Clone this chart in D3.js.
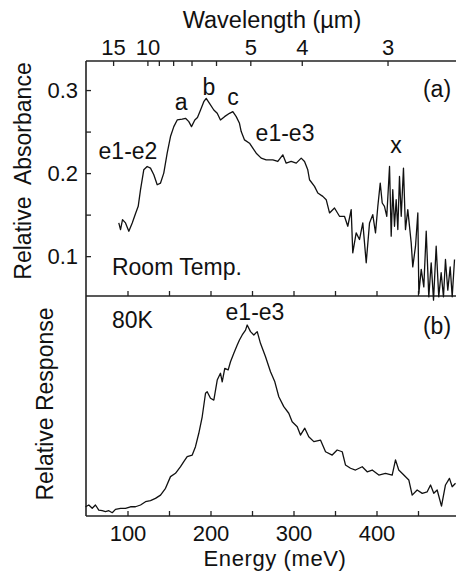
<!DOCTYPE html>
<html>
<head>
<meta charset="utf-8">
<script src="https://cdn.jsdelivr.net/npm/d3@7"></script>
<style>
  html, body { margin: 0; padding: 0; background: #fff; }
  svg { display: block; }
  text { font-family: "Liberation Sans", Arial, Helvetica, sans-serif; fill: #111; }
</style>
</head>
<body>
<svg id="chart" width="456" height="571"></svg>
<script>
// ---------- data ----------
// Panel (a): room-temperature absorbance, energy in meV
const absEnergy = [89.5, 91.6, 94.0, 97.6, 101.6, 105.7, 109.6, 112.9, 115.7, 119.6, 123.7, 127.7, 131.7, 135.8, 139.8, 143.7, 147.8, 151.8, 155.8, 159.9, 165.9, 169.9, 173.9, 177.1, 181.1, 184.3, 188.0, 191.9, 194.8, 198.8, 204.0, 208.1, 212.0, 216.9, 222.9, 226.9, 231.0, 234.9, 237.0, 241.0, 247.0, 251.0, 255.1, 261.1, 267.1, 275.1, 281.1, 287.1, 291.2, 297.2, 303.3, 309.3, 313.3, 317.2, 319.3, 325.3, 329.3, 335.3, 339.4, 343.4, 349.4, 355.4, 361.4, 365.4, 369.5, 371.4, 375.5, 379.5, 383.5, 387.6, 391.6, 395.5, 398.8, 401.6, 404.5, 406.9, 409.6, 412.4, 415.7, 417.7, 419.6, 421.7, 423.7, 425.7, 427.7, 429.8, 432.5, 434.9, 437.7, 441.8, 443.7, 447.0, 449.8, 451.0, 453.9, 457.0, 459.9, 463.0, 465.9, 468.7, 471.9, 475.0, 477.9, 480.7, 483.1, 485.9, 488.8, 491.2, 494.0];
const absValue = [0.140, 0.132, 0.144, 0.140, 0.130, 0.140, 0.151, 0.160, 0.180, 0.204, 0.208, 0.206, 0.198, 0.186, 0.188, 0.200, 0.224, 0.244, 0.256, 0.264, 0.265, 0.266, 0.262, 0.256, 0.264, 0.267, 0.276, 0.286, 0.290, 0.284, 0.276, 0.272, 0.264, 0.268, 0.272, 0.274, 0.268, 0.260, 0.250, 0.240, 0.236, 0.230, 0.224, 0.218, 0.216, 0.216, 0.214, 0.222, 0.212, 0.214, 0.212, 0.218, 0.214, 0.204, 0.192, 0.184, 0.176, 0.172, 0.168, 0.152, 0.158, 0.148, 0.148, 0.136, 0.156, 0.104, 0.128, 0.120, 0.140, 0.092, 0.140, 0.150, 0.128, 0.160, 0.188, 0.164, 0.160, 0.148, 0.208, 0.124, 0.180, 0.136, 0.168, 0.132, 0.196, 0.148, 0.206, 0.132, 0.156, 0.116, 0.087, 0.112, 0.152, 0.055, 0.084, 0.063, 0.130, 0.051, 0.092, 0.047, 0.112, 0.051, 0.080, 0.051, 0.096, 0.059, 0.087, 0.051, 0.096];

// Panel (b): 80 K photoresponse (arbitrary units), energy in meV
const respEnergy = [49.4, 53.4, 57.5, 61.4, 65.4, 69.5, 73.5, 77.5, 81.6, 85.5, 91.6, 97.6, 103.6, 109.6, 115.7, 121.7, 127.7, 133.7, 139.8, 145.8, 151.8, 157.8, 163.9, 167.8, 171.9, 178.0, 181.9, 185.9, 190.0, 194.0, 196.0, 200.0, 204.0, 208.1, 212.0, 214.1, 217.2, 221.3, 224.1, 228.1, 232.2, 234.9, 238.2, 242.2, 244.2, 248.2, 252.2, 256.3, 260.2, 266.3, 272.3, 277.5, 282.3, 288.3, 294.3, 298.4, 304.5, 308.4, 313.6, 318.4, 324.5, 332.5, 338.6, 346.6, 352.6, 358.7, 362.6, 368.7, 374.7, 382.8, 388.8, 394.8, 402.8, 410.8, 418.9, 422.9, 426.8, 432.9, 438.9, 443.0, 449.0, 455.1, 461.1, 465.1, 469.0, 473.1, 478.3, 483.1, 487.9, 491.2, 495.2];
const respValue = [0.042, 0.050, 0.035, 0.050, 0.027, 0.024, 0.020, 0.024, 0.015, 0.030, 0.035, 0.035, 0.042, 0.042, 0.050, 0.065, 0.070, 0.080, 0.095, 0.126, 0.179, 0.194, 0.224, 0.247, 0.270, 0.277, 0.315, 0.376, 0.451, 0.558, 0.565, 0.535, 0.527, 0.618, 0.649, 0.610, 0.671, 0.664, 0.701, 0.740, 0.777, 0.800, 0.823, 0.845, 0.868, 0.838, 0.823, 0.838, 0.785, 0.724, 0.656, 0.610, 0.542, 0.497, 0.467, 0.428, 0.406, 0.368, 0.399, 0.360, 0.338, 0.345, 0.292, 0.277, 0.300, 0.292, 0.232, 0.217, 0.209, 0.224, 0.201, 0.209, 0.186, 0.194, 0.186, 0.255, 0.209, 0.186, 0.164, 0.095, 0.118, 0.103, 0.110, 0.141, 0.103, 0.118, 0.045, 0.141, 0.171, 0.133, 0.149];

// Axis ticks
const energyTicks = [100, 150, 200, 250, 300, 350, 400, 450];
const energyLabels = [100, 200, 300, 400];
const wavelengthTicks = [15, 10, 9, 8, 7, 6, 5, 4, 3];
const wavelengthLabels = [15, 10, 5, 4, 3];
const absTicks = [0.1, 0.15, 0.2, 0.25, 0.3];
const absLabels = [0.1, 0.2, 0.3];

// Annotations (data coordinates)
const annotationsA = [
  { text: "a", e: 164.5, v: 0.276, anchor: "middle" },
  { text: "b", e: 198.2, v: 0.294, anchor: "middle" },
  { text: "c", e: 227.0, v: 0.282, anchor: "middle" },
  { text: "e1-e3", e: 289.8, v: 0.2387, anchor: "middle" },
  { text: "e1-e2", e: 100.6, v: 0.217, anchor: "middle" },
  { text: "x", e: 423.5, v: 0.224, anchor: "middle" },
  { text: "Room Temp.", e: 81.3, v: 0.0775, anchor: "start" },
  { text: "(a)", e: 472.9, v: 0.2916, anchor: "middle" }
];
const annotationsB = [
  { text: "80K", e: 81.3, v: 0.855, anchor: "start" },
  { text: "e1-e3", e: 253.6, v: 0.891, anchor: "middle" },
  { text: "(b)", e: 472.9, v: 0.827, anchor: "middle" }
];

// ---------- layout ----------
const plotLeft = 86, plotTop = 61, plotMid = 296, plotBottom = 516, plotRight = 460;
const tickFont = 22;
const labelFont = 23;
const HC = 1239.84; // meV·µm

const svg = d3.select("#chart");

const x = d3.scaleLinear().domain([50, 500]).range([plotLeft, plotLeft + 450 * 0.83]);
const ya = d3.scaleLinear().domain([0.052, 0.335]).range([plotMid, plotTop]);
const yb = d3.scaleLinear().domain([0, 1]).range([plotBottom, plotMid]);

const frameColor = "#222";

// ---------- axes ----------
const bottomAxis = d3.axisBottom(x)
  .tickValues(energyTicks)
  .tickSizeInner(-5).tickSizeOuter(0).tickPadding(9.5)
  .tickFormat(d => energyLabels.includes(d) ? d : "");
svg.append("g").attr("transform", `translate(0,${plotBottom})`).call(bottomAxis);

const midAxis = d3.axisBottom(x)
  .tickValues(energyTicks)
  .tickSizeInner(-5).tickSizeOuter(0)
  .tickFormat("");
svg.append("g").attr("transform", `translate(0,${plotMid})`).call(midAxis);

const topAxis = d3.axisTop(x)
  .tickValues(wavelengthTicks.map(l => HC / l))
  .tickSizeInner(-5).tickSizeOuter(0).tickPadding(6)
  .tickFormat(e => {
    const l = Math.round(HC / e);
    return wavelengthLabels.includes(l) ? l : "";
  });
svg.append("g").attr("transform", `translate(0,${plotTop})`).call(topAxis);

const leftAxis = d3.axisLeft(ya)
  .tickValues(absTicks)
  .tickSizeInner(-5).tickSizeOuter(0).tickPadding(8)
  .tickFormat(d => absLabels.some(a => Math.abs(a - d) < 1e-9) ? d3.format(".1f")(d) : "");
svg.append("g").attr("transform", `translate(${plotLeft},0)`).call(leftAxis);

svg.selectAll(".domain").remove();
svg.selectAll(".tick line").attr("stroke", frameColor).attr("stroke-width", 1.3);
svg.selectAll(".tick text")
  .attr("font-size", tickFont)
  .attr("font-family", "Liberation Sans, Arial, sans-serif")
  .attr("fill", "#111");

const frame = svg.append("g").attr("stroke", frameColor).attr("stroke-width", 1.6).attr("fill", "none");
frame.append("line").attr("x1", plotLeft).attr("x2", plotLeft).attr("y1", plotTop).attr("y2", plotBottom);
frame.append("line").attr("x1", plotLeft).attr("x2", plotRight).attr("y1", plotTop).attr("y2", plotTop);
frame.append("line").attr("x1", plotLeft).attr("x2", plotRight).attr("y1", plotMid).attr("y2", plotMid);
frame.append("line").attr("x1", plotLeft).attr("x2", plotRight).attr("y1", plotBottom).attr("y2", plotBottom);

// ---------- curves ----------
const absData = absEnergy.map((e, i) => [e, absValue[i]]);
const respData = respEnergy.map((e, i) => [e, respValue[i]]);

svg.append("path")
  .datum(absData)
  .attr("fill", "none").attr("stroke", "#111").attr("stroke-width", 1.3)
  .attr("stroke-linejoin", "round")
  .attr("d", d3.line().x(d => x(d[0])).y(d => ya(d[1])));

svg.append("path")
  .datum(respData)
  .attr("fill", "none").attr("stroke", "#111").attr("stroke-width", 1.3)
  .attr("stroke-linejoin", "round")
  .attr("d", d3.line().x(d => x(d[0])).y(d => yb(d[1])));

// ---------- annotations ----------
svg.append("g").selectAll("text").data(annotationsA).join("text")
  .attr("x", d => x(d.e)).attr("y", d => ya(d.v))
  .attr("text-anchor", d => d.anchor)
  .attr("font-size", labelFont)
  .text(d => d.text);

svg.append("g").selectAll("text").data(annotationsB).join("text")
  .attr("x", d => x(d.e)).attr("y", d => yb(d.v))
  .attr("text-anchor", d => d.anchor)
  .attr("font-size", labelFont)
  .text(d => d.text);

// ---------- axis titles ----------
svg.append("text")
  .attr("x", 272).attr("y", 28)
  .attr("text-anchor", "middle").attr("font-size", 23.5)
  .text("Wavelength (µm)");

svg.append("text")
  .attr("x", 275).attr("y", 566)
  .attr("text-anchor", "middle").attr("font-size", 22)
  .attr("letter-spacing", 0.6)
  .text("Energy (meV)");

svg.append("text")
  .attr("transform", "translate(31,171) rotate(-90)")
  .attr("text-anchor", "middle").attr("font-size", labelFont)
  .attr("xml:space", "preserve")
  .text("Relative  Absorbance");

svg.append("text")
  .attr("transform", "translate(53,404) rotate(-90)")
  .attr("text-anchor", "middle").attr("font-size", labelFont)
  .text("Relative Response");
</script>
</body>
</html>
